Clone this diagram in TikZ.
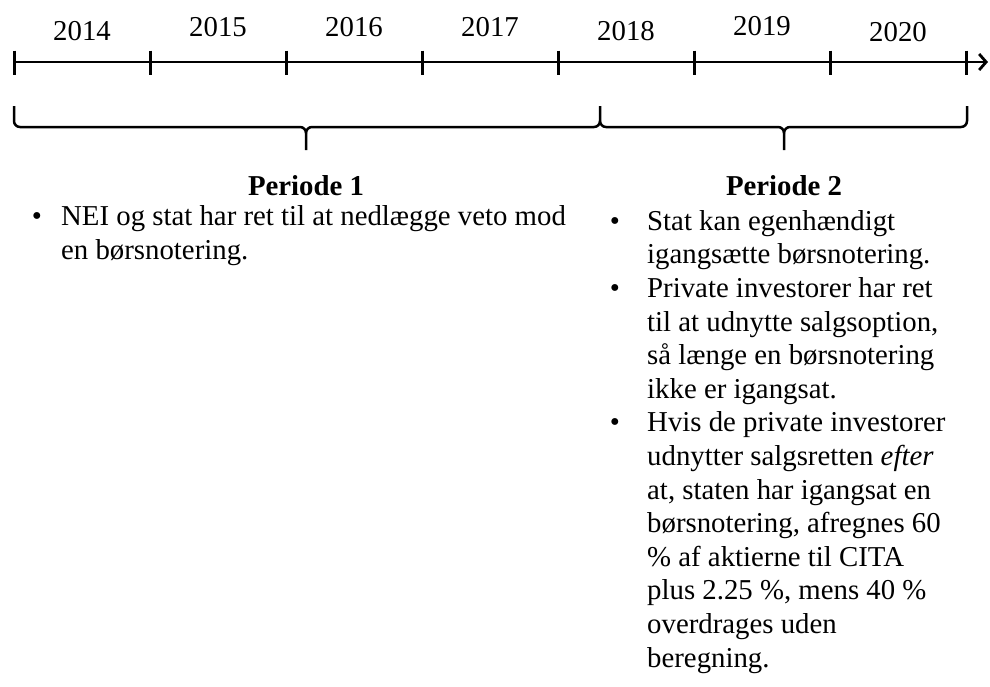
\documentclass[tikz,border=0pt]{standalone}
\usepackage{fontspec}
\setmainfont{Liberation Serif}
\usetikzlibrary{arrows.meta}

\begin{document}
\begin{tikzpicture}
[x=1pt,y=-1pt,
 year/.style={font=\fontsize{28.8}{33.6}\selectfont,inner sep=0pt},
 head/.style={font=\fontsize{28.8}{33.6}\selectfont\bfseries,inner sep=0pt,anchor=mid},
 txt/.style={font=\fontsize{28.8}{33.6}\selectfont,inner sep=0pt,anchor=mid west},
 dot/.style={font=\fontsize{28.8}{33.6}\selectfont,inner sep=0pt,anchor=mid},
 axis/.style={line width=2.8pt},
 tick/.style={line width=3pt},
 brc/.style={line width=2.5pt}]
\useasboundingbox (0,0) rectangle (990,686);

% timeline
\coordinate (t0) at (14,62);
\coordinate (tend) at (988,62);
\draw[axis,-{Straight Barb[length=7pt,width=16pt]}] (t0) -- (tend);
\foreach \i in {0,...,7}
\draw[tick] (14+136*\i,50.5) -- (14+136*\i,74.5);
\foreach \yr/\x/\y in {2014/82/31,2015/218/27,2016/354/27,2017/490/27,2018/626/31,2019/762/26.5,2020/898/32}
\node[year] (y\yr) at (\x,\y) {\yr};

% braces
\draw[brc] (14,106) -- (14,121) to[out=-90,in=180] (20,127) -- (300,127) to[out=0,in=90] (306,133) -- (306,150);
\draw[brc] (306,133) to[out=90,in=180] (312,127) -- (594,127) to[out=0,in=-90] (600,121) -- (600,106);
\draw[brc] (600,121) to[out=-90,in=180] (606,127) -- (778,127) to[out=0,in=90] (784,133) -- (784,150);
\draw[brc] (784,133) to[out=90,in=180] (790,127) -- (961,127) to[out=0,in=-90] (967,121) -- (967,106);

\node[head] (p1) at (306,193) {Periode 1};
\node[head] (p2) at (784,193) {Periode 2};

\node[txt] (l1) at (61,223) {NEI og stat har ret til at nedlægge veto mod};
\node[txt] (l2) at (61,257) {en børsnotering.};
\node[dot] (d1) at ([xshift=-24pt]l1.mid west) {•};

\foreach \t [count=\i] in {Stat kan egenhændigt,igangsætte børsnotering.,Private investorer har ret,{til at udnytte salgsoption,},så længe en børsnotering,ikke er igangsat.,Hvis de private investorer,udnytter salgsretten \emph{efter},{at, staten har igangsat en},{børsnotering, afregnes 60},\% af aktierne til CITA,{plus 2.25 \%, mens 40 \%},overdrages uden,beregning.}
\node[txt] (r\i) at (647,228+33.6*\i-33.6) {\t};
\foreach \i in {1,3,7}
\node[dot] (d2\i) at ([xshift=-32pt]r\i.mid west) {•};
\end{tikzpicture}
\end{document}
